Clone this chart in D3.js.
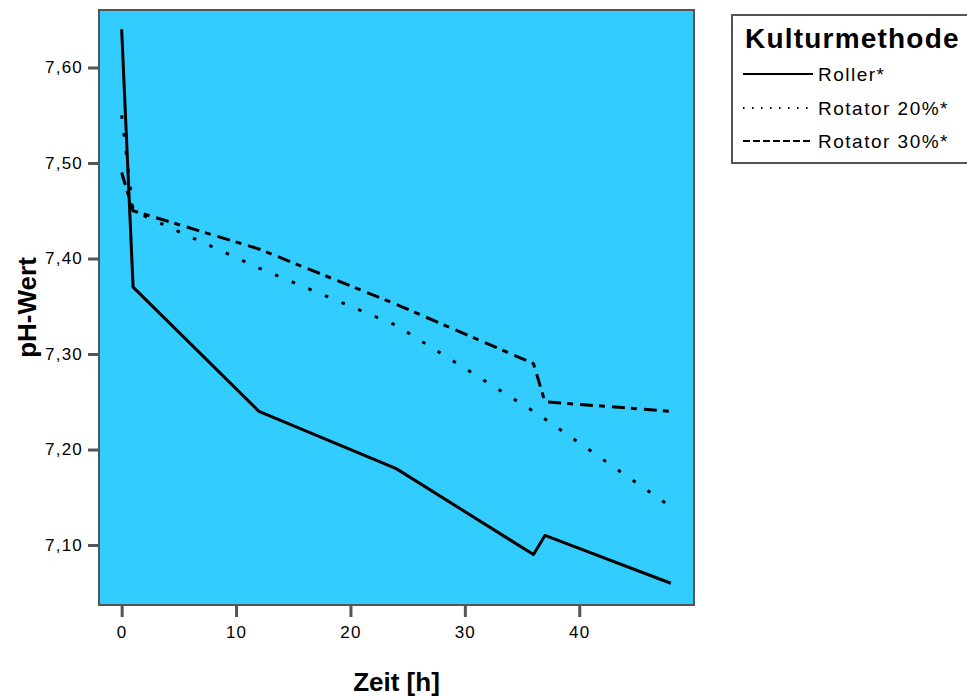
<!DOCTYPE html>
<html>
<head>
<meta charset="utf-8">
<script src="https://cdn.jsdelivr.net/npm/d3@7"></script>
<style>
  html, body { margin: 0; padding: 0; background: #ffffff; }
  svg { display: block; }
  text { font-family: "Liberation Sans", Arial, sans-serif; fill: #000; }
</style>
</head>
<body>
<svg id="chart" width="967" height="699"></svg>
<script>
// ---- Data ----
const times = [0, 1, 12, 24, 36, 37, 48];
const roller     = [7.64, 7.37, 7.24, 7.18, 7.09, 7.11, 7.06];
const rotator20  = [7.55, 7.45, 7.39, 7.33, 7.24, 7.232, 7.14];
const rotator30  = [7.49, 7.45, 7.41, 7.352, 7.29, 7.25, 7.24];
const seriesNames = ["Roller*", "Rotator 20%*", "Rotator 30%*"];
const xTickValues = [0, 10, 20, 30, 40];
const yTickValues = [7.10, 7.20, 7.30, 7.40, 7.50, 7.60];
const legendTitle = "Kulturmethode";
const xTitle = "Zeit [h]";
const yTitle = "pH-Wert";

const series = [
  { name: seriesNames[0], values: roller,    dash: null,          legendDash: null },
  { name: seriesNames[1], values: rotator20, dash: "3.5,14.5",    legendDash: "1.5,7.5" },
  { name: seriesNames[2], values: rotator30, dash: "13,6,6,7",    legendDash: "7,3" }
];

// ---- Layout ----
const plot = { left: 99, top: 10, right: 694, bottom: 605 };
const svg = d3.select("#chart");

const x = d3.scaleLinear().domain([-1.98, 50.03]).range([plot.left, plot.right]);
const y = d3.scaleLinear().domain([7.0372, 7.6602]).range([plot.bottom, plot.top]);

// plot background
svg.append("rect")
  .attr("x", plot.left).attr("y", plot.top)
  .attr("width", plot.right - plot.left).attr("height", plot.bottom - plot.top)
  .attr("fill", "#33ccff");

// axes
const fmt = d => d3.format(".2f")(d).replace(".", ",");
const yAxis = svg.append("g")
  .attr("transform", `translate(${plot.left},0)`)
  .call(d3.axisLeft(y).tickValues(yTickValues).tickFormat(fmt).tickSize(11).tickPadding(5));
const xAxis = svg.append("g")
  .attr("transform", `translate(0,${plot.bottom})`)
  .call(d3.axisBottom(x).tickValues(xTickValues).tickFormat(d3.format("d")).tickSize(12).tickPadding(9));

[yAxis, xAxis].forEach(g => {
  g.select(".domain").remove();
  g.selectAll(".tick line").attr("stroke", "#555").attr("stroke-width", 3);
  g.selectAll(".tick text")
    .style("font-family", "'Liberation Sans', Arial, sans-serif")
    .style("font-size", "17px")
    .style("letter-spacing", "1.2px")
    .attr("fill", "#000");
});

// lines
const line = d3.line()
  .x((d, i) => x(times[i]))
  .y(d => y(d));

const linesG = svg.append("g");
series.forEach(s => {
  linesG.append("path")
    .datum(s.values)
    .attr("d", line)
    .attr("fill", "none")
    .attr("stroke", "#000")
    .attr("stroke-width", 3)
    .attr("stroke-linejoin", "round")
    .attr("stroke-dasharray", s.dash);
});

// plot frame
svg.append("rect")
  .attr("x", plot.left).attr("y", plot.top)
  .attr("width", plot.right - plot.left).attr("height", plot.bottom - plot.top)
  .attr("fill", "none").attr("stroke", "#555").attr("stroke-width", 2);

// axis titles
svg.append("text")
  .attr("x", (plot.left + plot.right) / 2).attr("y", 691)
  .attr("text-anchor", "middle")
  .style("font-size", "26px").style("font-weight", "bold")
  .text(xTitle);

svg.append("text")
  .attr("transform", `translate(36,${(plot.top + plot.bottom) / 2}) rotate(-90)`)
  .attr("text-anchor", "middle")
  .style("font-size", "26px").style("font-weight", "bold")
  .text(yTitle);

// legend
const lg = svg.append("g");
lg.append("rect")
  .attr("x", 732).attr("y", 15).attr("width", 260).attr("height", 148)
  .attr("fill", "#fff").attr("stroke", "#555").attr("stroke-width", 2);
lg.append("text")
  .attr("x", 745).attr("y", 48)
  .style("font-size", "28px").style("font-weight", "bold").style("letter-spacing", "1.2px")
  .text(legendTitle);

const rowY = [74, 108, 141];
series.forEach((s, i) => {
  lg.append("line")
    .attr("x1", 743).attr("x2", 813)
    .attr("y1", rowY[i]).attr("y2", rowY[i])
    .attr("stroke", "#000").attr("stroke-width", 2)
    .attr("stroke-dasharray", s.legendDash);
  lg.append("text")
    .attr("x", 818).attr("y", rowY[i] + 7)
    .style("font-size", "19px").style("letter-spacing", "1.5px")
    .text(s.name);
});
</script>
</body>
</html>
